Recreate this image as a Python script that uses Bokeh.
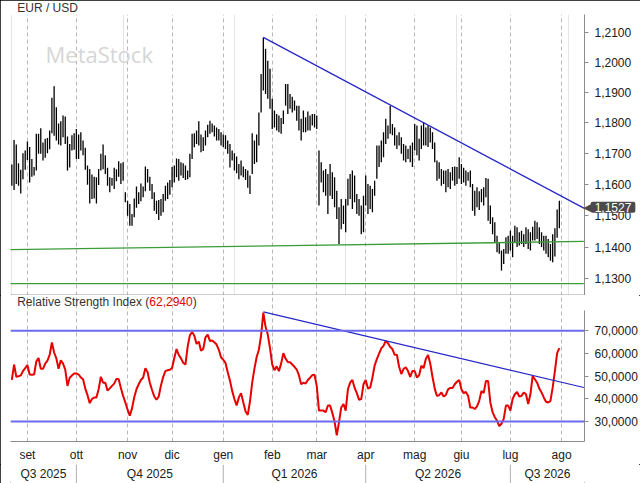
import numpy as np
from bokeh.plotting import figure
from bokeh.models import Range1d, FixedTicker, CustomJSTickFormatter, Grid, Label, Span
from bokeh.layouts import column
from bokeh.embed import file_html
from bokeh.resources import INLINE
from bokeh.core.properties import value

# ---------------- data ----------------
ORIGIN = "2025-08-21"
first_day, last_day = "2025-08-21", "2026-07-31"

high = [
    1.1664, 1.1744, 1.1729, 1.1668, 1.1647, 1.1701, 1.1710, 1.1739, 1.1721, 1.1682,
    1.1656, 1.1764, 1.1764, 1.1782, 1.1736, 1.1748, 1.1750, 1.1775, 1.1882, 1.1920,
    1.1851, 1.1798, 1.1805, 1.1824, 1.1821, 1.1755, 1.1731, 1.1759, 1.1766, 1.1780,
    1.1762, 1.1769, 1.1742, 1.1719, 1.1661, 1.1650, 1.1632, 1.1625, 1.1623, 1.1650,
    1.1699, 1.1729, 1.1694, 1.1654, 1.1623, 1.1621, 1.1654, 1.1649, 1.1675, 1.1668,
    1.1672, 1.1575, 1.1548, 1.1537, 1.1505, 1.1555, 1.1593, 1.1575, 1.1603, 1.1593,
    1.1658, 1.1650, 1.1625, 1.1601, 1.1575, 1.1548,
    1.1550, 1.1553, 1.1569, 1.1596, 1.1606, 1.1614, 1.1656, 1.1661, 1.1684, 1.1682,
    1.1672, 1.1668, 1.1661, 1.1645, 1.1699, 1.1764, 1.1766, 1.1775, 1.1805, 1.1762,
    1.1753, 1.1775, 1.1794, 1.1807, 1.1798, 1.1791, 1.1785, 1.1780, 1.1769, 1.1762,
    1.1759, 1.1742, 1.1731, 1.1710, 1.1701, 1.1690, 1.1666, 1.1677, 1.1658, 1.1650,
    1.1645, 1.1629, 1.1766, 1.1742, 1.1762, 1.1834, 1.1961, 1.2083, 1.2045, 1.2005,
    1.1978, 1.1879, 1.1840, 1.1829, 1.1824, 1.1816, 1.1840, 1.1928, 1.1928, 1.1895,
    1.1886, 1.1873, 1.1856, 1.1856,
    1.1813, 1.1840, 1.1818, 1.1837, 1.1824, 1.1829, 1.1829, 1.1824, 1.1710, 1.1672,
    1.1645, 1.1650, 1.1634, 1.1666, 1.1639, 1.1623, 1.1580, 1.1527, 1.1553, 1.1532,
    1.1553, 1.1618, 1.1634, 1.1645, 1.1629, 1.1569, 1.1553, 1.1532, 1.1564, 1.1629,
    1.1601, 1.1596, 1.1585, 1.1612, 1.1726, 1.1726, 1.1742, 1.1769, 1.1813, 1.1791,
    1.1855, 1.1796, 1.1785, 1.1759, 1.1769, 1.1753, 1.1731, 1.1726, 1.1715, 1.1726,
    1.1736, 1.1796, 1.1791, 1.1748, 1.1791, 1.1802, 1.1785, 1.1791, 1.1785, 1.1769,
    1.1736, 1.1677, 1.1672, 1.1650, 1.1645,
    1.1645, 1.1650, 1.1639, 1.1656, 1.1658, 1.1656, 1.1688, 1.1666, 1.1654, 1.1645,
    1.1639, 1.1645, 1.1601, 1.1580, 1.1591, 1.1578, 1.1585, 1.1591, 1.1621, 1.1618,
    1.1532, 1.1495, 1.1479, 1.1436, 1.1415, 1.1389, 1.1394, 1.1431, 1.1436, 1.1452,
    1.1436, 1.1468, 1.1463, 1.1447, 1.1452, 1.1441, 1.1463, 1.1457, 1.1447, 1.1465,
    1.1484, 1.1479, 1.1463, 1.1447, 1.1436, 1.1436, 1.1426, 1.1410, 1.1441, 1.1460,
    1.1520, 1.1548,
]

low = [
    1.1596, 1.1582, 1.1601, 1.1596, 1.1571, 1.1617, 1.1647, 1.1679, 1.1606, 1.1625,
    1.1629, 1.1645, 1.1699, 1.1699, 1.1677, 1.1686, 1.1701, 1.1714, 1.1766, 1.1758,
    1.1742, 1.1729, 1.1726, 1.1753, 1.1731, 1.1645, 1.1655, 1.1710, 1.1712, 1.1682,
    1.1682, 1.1710, 1.1694, 1.1647, 1.1599, 1.1539, 1.1553, 1.1555, 1.1539, 1.1598,
    1.1645, 1.1649, 1.1634, 1.1596, 1.1575, 1.1596, 1.1585, 1.1610, 1.1625, 1.1601,
    1.1612, 1.1543, 1.1500, 1.1468, 1.1468, 1.1495, 1.1525, 1.1537, 1.1546, 1.1559,
    1.1578, 1.1606, 1.1580, 1.1553, 1.1516, 1.1505,
    1.1486, 1.1500, 1.1511, 1.1548, 1.1553, 1.1567, 1.1591, 1.1606, 1.1623, 1.1612,
    1.1629, 1.1621, 1.1614, 1.1617, 1.1623, 1.1682, 1.1720, 1.1731, 1.1726, 1.1704,
    1.1708, 1.1726, 1.1753, 1.1764, 1.1769, 1.1755, 1.1742, 1.1742, 1.1726, 1.1721,
    1.1715, 1.1699, 1.1655, 1.1677, 1.1645, 1.1636, 1.1617, 1.1629, 1.1623, 1.1614,
    1.1589, 1.1569, 1.1634, 1.1666, 1.1672, 1.1726, 1.1834, 1.1906, 1.1895, 1.1879,
    1.1846, 1.1780, 1.1785, 1.1775, 1.1769, 1.1764, 1.1796, 1.1856, 1.1829, 1.1846,
    1.1834, 1.1840, 1.1807, 1.1775,
    1.1742, 1.1769, 1.1769, 1.1775, 1.1775, 1.1791, 1.1785, 1.1780, 1.1532, 1.1606,
    1.1575, 1.1564, 1.1505, 1.1564, 1.1553, 1.1527, 1.1489, 1.1410, 1.1457, 1.1473,
    1.1447, 1.1532, 1.1553, 1.1521, 1.1543, 1.1505, 1.1500, 1.1441, 1.1447, 1.1532,
    1.1505, 1.1521, 1.1511, 1.1564, 1.1618, 1.1656, 1.1672, 1.1688, 1.1731, 1.1748,
    1.1764, 1.1759, 1.1726, 1.1715, 1.1726, 1.1699, 1.1677, 1.1672, 1.1682, 1.1672,
    1.1656, 1.1710, 1.1694, 1.1677, 1.1715, 1.1726, 1.1726, 1.1721, 1.1736, 1.1715,
    1.1672, 1.1612, 1.1618, 1.1596, 1.1601,
    1.1575, 1.1591, 1.1585, 1.1612, 1.1596, 1.1601, 1.1618, 1.1601, 1.1606, 1.1596,
    1.1612, 1.1591, 1.1516, 1.1500, 1.1527, 1.1518, 1.1543, 1.1532, 1.1559, 1.1484,
    1.1473, 1.1441, 1.1415, 1.1384, 1.1379, 1.1326, 1.1347, 1.1379, 1.1379, 1.1389,
    1.1368, 1.1415, 1.1400, 1.1405, 1.1410, 1.1400, 1.1410, 1.1394, 1.1389, 1.1421,
    1.1421, 1.1426, 1.1410, 1.1400, 1.1389, 1.1379, 1.1368, 1.1357, 1.1352, 1.1370,
    1.1430, 1.1460,
]

rsi = [
    48.3, 55.1, 49.7, 49.9, 50.3, 52.2, 53.5,
    54.9, 50.7, 50.6, 50.7, 56.5, 58.0, 53.2, 53.2, 55.5, 56.8,
    59.4, 64.8, 60.4, 57.8, 53.2, 57.0, 55.5, 52.9, 45.7, 49.3,
    50.3, 51.2, 51.2, 50.7, 49.4, 48.6, 44.5, 41.6, 38.1, 39.9,
    40.6, 40.6, 44.2, 49.7, 47.1, 47.1, 43.6, 44.6, 45.7, 46.7,
    48.8, 48.6, 44.8, 41.3, 38.4, 35.2, 32.6, 35.8, 40.7, 44.2,
    46.4, 48.3, 49.4, 53.5, 51.7, 47.1, 43.9, 41.0, 39.6, 41.0,
    45.9, 49.7, 52.2, 52.6, 52.8, 53.6, 58.0, 61.9, 59.3, 57.8,
    55.9, 55.1, 63.0, 68.0, 69.4, 67.8, 64.2, 65.2, 61.2, 62.0,
    67.1, 68.3, 65.5, 65.7, 64.9, 63.9, 61.6, 58.3, 57.2, 55.8,
    51.7, 48.1, 43.5, 39.9, 37.1, 40.6, 42.5, 38.4, 34.5, 32.9,
    38.8, 47.1, 53.3, 58.4, 61.6, 68.0, 78.0, 71.7, 68.3, 62.3,
    55.1, 52.6, 54.3, 52.2, 55.5, 60.1, 57.7, 56.2, 56.1, 55.1,
    54.1, 52.9, 50.3, 46.4, 47.1, 46.7, 48.3, 49.3, 50.4, 50.6,
    45.7, 34.8, 34.8, 34.8, 34.1, 37.0, 37.0, 33.8, 30.0, 23.9,
    29.7, 36.2, 37.7, 34.8, 44.2, 47.1, 48.3, 44.9, 42.5, 39.6,
    39.9, 46.4, 48.3, 44.5, 44.9, 49.3, 54.6, 57.5, 59.9, 62.2,
    63.3, 65.5, 64.5, 62.8, 61.9, 59.4, 59.4, 54.1, 50.9, 53.2,
    53.9, 52.2, 49.7, 52.3, 52.2, 49.4, 50.4, 54.6, 53.5, 57.5,
    59.3, 55.5, 49.7, 44.5, 41.3, 41.6, 42.8, 41.0, 41.7, 44.2,
    44.8, 44.8, 46.4, 47.5, 48.3, 44.2, 42.5, 43.0, 41.3, 36.2,
    36.2, 35.5, 36.7, 39.1, 43.5, 42.5, 47.8, 47.8, 38.4, 34.1,
    31.9, 30.4, 28.0, 29.0, 31.2, 37.0, 37.0, 34.8, 39.9, 42.0,
    43.0, 41.0, 41.3, 42.8, 42.0, 37.7, 42.0, 50.0, 48.6, 47.1,
    44.5, 42.8, 40.6, 38.7, 38.4, 39.1, 44.9, 52.2, 60.1, 62.294,
]

last_close = 1.1527

price_ticks = [1.13, 1.14, 1.15, 1.16, 1.17, 1.18, 1.19, 1.20, 1.21]
rsi_ticks = [30, 40, 50, 60, 70]
rsi_levels = [70, 30]

months = ["2025-09", "2025-10", "2025-11", "2025-12", "2026-01", "2026-02",
          "2026-03", "2026-04", "2026-05", "2026-06", "2026-07", "2026-08"]
month_labels = ["set", "ott", "nov", "dic", "gen", "feb",
                "mar", "apr", "mag", "giu", "lug", "ago"]
quarter_starts = ["2025-10", "2026-01", "2026-04", "2026-07"]
quarter_labels = ["Q3 2025", "Q4 2025", "Q1 2026", "Q2 2026", "Q3 2026"]

# drawn lines (date, value)
price_trend = [("2026-01-27", 1.2083), ("2026-08-17", 1.1524)]
support_upper = [("2025-08-20", 1.1392), ("2026-08-17", 1.1418)]
support_lower = [("2025-08-20", 1.1285), ("2026-08-17", 1.1285)]
rsi_trend = [("2026-01-27", 78.3), ("2026-08-17", 45.0)]

# ---------------- helpers ----------------
ORG = np.datetime64(ORIGIN, "D")


def pos(d):
    return int(np.busday_count(ORG, np.datetime64(d, "D")))


days = np.arange(np.datetime64(first_day, "D"), np.datetime64(last_day, "D") + 1)
days = days[np.is_busday(days)]
xs = np.busday_count(ORG, days).astype(float)
assert len(xs) == len(high) == len(low) == len(rsi)

month_pos = [pos(np.busday_offset(np.datetime64(m + "-01", "D"), 0, roll="forward")) for m in months]
q_bounds = [pos(np.busday_offset(np.datetime64(m + "-01", "D"), 0, roll="forward")) for m in quarter_starts]

# layout
W = 640
LB, RB = 10, 55
FRAME_W = W - LB - RB
P_TOP, P_FRAME_H = 14, 281
R_FRAME_H, R_AXIS_H = 148, 21
STRIP_H = 483 - (P_TOP + P_FRAME_H) - (R_FRAME_H + R_AXIS_H)

X_START, X_END = -0.6, 257.3
P_LO, P_HI = 1.1248, 1.2160
R_LO, R_HI = 21.2, 85.5
PXU = FRAME_W / (X_END - X_START)          # pixels per trading day
KLOG = np.log(P_HI / P_LO) / P_FRAME_H     # log-price per pixel

edges = [X_START] + q_bounds + [X_END]
q_mid = [(a + b) / 2 for a, b in zip(edges[:-1], edges[1:])]

FONT = "Liberation Sans"
FS = "12px"
TXT = "#202020"
GRID = "#b8b8b8"
AXC = "#8c8c8c"

fmt = CustomJSTickFormatter(code="return tick.toFixed(4).replace('.', ',');")


def style_y(ax, ticks):
    ax.ticker = FixedTicker(ticks=ticks, minor_ticks=[])
    ax.formatter = fmt
    ax.axis_line_color = AXC
    ax.major_tick_line_color = AXC
    ax.major_tick_out = 4
    ax.major_tick_in = 0
    ax.minor_tick_line_color = None
    ax.major_label_text_font = FONT
    ax.major_label_text_font_size = FS
    ax.major_label_text_color = TXT
    ax.major_label_standoff = 6


x_range = Range1d(X_START, X_END)

# ---------------- price panel ----------------
p = figure(width=W, height=P_TOP + P_FRAME_H, x_range=x_range, y_range=Range1d(P_LO, P_HI),
           y_axis_type="log", x_axis_location=None, y_axis_location="right",
           output_backend="svg", toolbar_location=None,
           min_border_left=LB, min_border_right=RB, min_border_top=P_TOP, min_border_bottom=0)
p.outline_line_color = None
p.ygrid.grid_line_color = None
p.add_layout(Grid(dimension=0, ticker=FixedTicker(ticks=month_pos),
                  grid_line_color=GRID, grid_line_dash="4 3"))
style_y(p.yaxis[0], price_ticks)

p.add_layout(Label(x=35, y=P_FRAME_H - (53.3 - P_TOP), x_units="screen", y_units="screen",
                   text="MetaStock", text_font="Open Sans", text_font_size="22px",
                   text_color="#d6d6d6", text_baseline="alphabetic"))

p.segment(x0=xs, y0=low, x1=xs, y1=high, line_color="black", line_width=1.3)

p.line([pos(d) for d, _ in support_upper], [v for _, v in support_upper],
       line_color="#3a9d3a", line_width=1.3)
p.line([pos(d) for d, _ in support_lower], [v for _, v in support_lower],
       line_color="#3a9d3a", line_width=1.3)
p.line([pos(d) for d, _ in price_trend], [v for _, v in price_trend],
       line_color="#2626c8", line_width=1.2)

# panel bottom border
y_border = P_LO * np.exp(KLOG * 0.5)
p.segment(x0=[X_START], y0=[y_border], x1=[X_END], y1=[y_border],
          line_color="#9a9a9a", line_width=1, level="overlay")

# title above the frame
y_in = P_HI * np.exp(-KLOG * 4)
p.text(x=[X_START + 0.5], y=[y_in], text=["EUR / USD"], x_offset=5.6, y_offset=-10.5,
       text_font=value(FONT), text_font_size=FS, text_color="#333333",
       text_baseline="middle", level="overlay")

# current price tag on the axis
x_in = X_END - 0.5
p.text(x=[x_in], y=[last_close], text=["\u25C0"], x_offset=0.5 * PXU + 7,
       text_align="right", text_baseline="middle",
       text_font=value("DejaVu Sans"), text_font_size="11px", text_color="#4a4a4a",
       level="overlay")
p.text(x=[x_in], y=[last_close], text=[f"{last_close:.4f}".replace(".", ",")],
       x_offset=0.5 * PXU + 28.5, text_align="center", text_baseline="middle",
       text_font=value(FONT), text_font_size=FS, text_color="white",
       background_fill_color="#4a4a4a", padding=dict(left=4, right=4, top=1, bottom=1),
       border_radius=2, level="overlay")

# ---------------- RSI panel ----------------
r = figure(width=W, height=R_FRAME_H + R_AXIS_H, x_range=x_range, y_range=Range1d(R_LO, R_HI),
           x_axis_location="below", y_axis_location="right",
           output_backend="svg", toolbar_location=None,
           min_border_left=LB, min_border_right=RB, min_border_top=0, min_border_bottom=R_AXIS_H)
r.outline_line_color = None
r.ygrid.grid_line_color = None
r.xaxis.ticker = FixedTicker(ticks=month_pos, minor_ticks=[])
r.xaxis.major_label_overrides = {mp: lab for mp, lab in zip(month_pos, month_labels)}
r.xaxis.major_tick_out = 0
r.xaxis.major_tick_in = 0
r.xaxis.minor_tick_line_color = None
r.xaxis.axis_line_color = AXC
r.xaxis.major_label_text_font = FONT
r.xaxis.major_label_text_font_size = FS
r.xaxis.major_label_text_color = TXT
r.xaxis.major_label_standoff = 6
r.xgrid.grid_line_color = GRID
r.xgrid.grid_line_dash = "4 3"
style_y(r.yaxis[0], rsi_ticks)
r.yaxis[0].bounds = (R_LO, 79)

for lv in rsi_levels:
    r.add_layout(Span(location=lv, dimension="width", line_color="#6b6bef", line_width=2))

r.line(xs, rsi, line_color="#e60000", line_width=2)
r.line([pos(d) for d, _ in rsi_trend], [v for _, v in rsi_trend],
       line_color="#2626c8", line_width=1.2)

title_parts = ["Relative Strength Index (", f"{rsi[-1]:.4f}".replace(".", ","), ")"]
title_x = [6.7, 138.8, 182.2]
title_col = ["#333333", "#e00000", "#333333"]
for t, tx, tc in zip(title_parts, title_x, title_col):
    r.add_layout(Label(x=tx, y=R_FRAME_H - 8, x_units="screen", y_units="screen", text=t,
                       text_font=FONT, text_font_size=FS, text_color=tc,
                       text_baseline="middle"))

# ---------------- quarter strip ----------------
s = figure(width=W, height=STRIP_H, x_range=x_range, y_range=Range1d(0, 1),
           x_axis_location=None, y_axis_location=None,
           output_backend="svg", toolbar_location=None,
           min_border_left=LB, min_border_right=RB, min_border_top=0, min_border_bottom=0)
s.outline_line_color = None
s.grid.visible = False
s.segment(x0=q_bounds, y0=0, x1=q_bounds, y1=1, line_color="#b0b0b0", line_width=1)
s.text(x=q_mid, y=[0.5] * len(q_mid), text=quarter_labels, text_align="center",
       text_baseline="middle", text_font=value(FONT), text_font_size=FS, text_color=TXT)

layout = column(p, r, s, styles={"outline": "1px solid #000", "outline-offset": "-1px"})
open("out.html", "w").write(file_html(layout, INLINE))
